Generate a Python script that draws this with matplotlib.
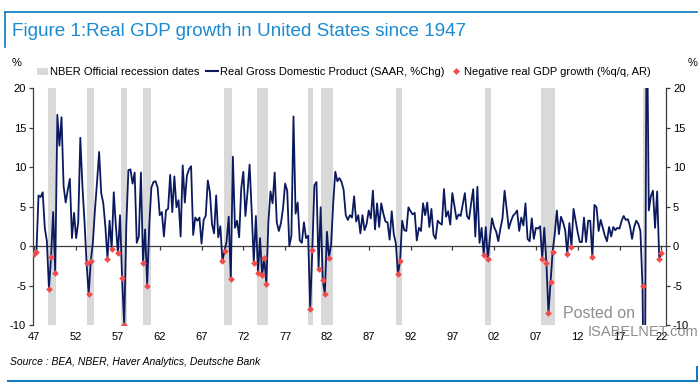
import matplotlib
matplotlib.use('Agg')
import matplotlib.pyplot as plt
import matplotlib.lines as mlines
import matplotlib.patches as mpatches
import numpy as np

plt.rcParams['font.family'] = ['Liberation Sans', 'DejaVu Sans']

# Real GDP growth, SAAR %q/q, quarterly from 1947Q2 to 2022Q2 (one row per year)
first_quarter = 1947.25
gdp_growth = [
    -1.0, -0.8, 6.4,              # 1947
    6.2, 6.8, 2.3, 0.6,           # 1948
    -5.4, -1.4, 4.3, -3.4,        # 1949
    16.6, 12.7, 16.3, 7.6,        # 1950
    5.5, 7.1, 8.5, 1.0,           # 1951
    4.2, 1.0, 3.0, 13.7,          # 1952
    7.6, 3.1, -2.2, -6.1,         # 1953
    -1.9, 0.4, 4.6, 8.1,          # 1954
    11.9, 6.7, 5.4, 2.4,          # 1955
    -1.6, 3.2, -0.4, 6.8,         # 1956
    2.6, -0.9, 3.9, -4.1,         # 1957
    -10.0, 2.6, 9.6, 9.7,         # 1958
    7.9, 9.3, 0.4, 1.2,           # 1959
    9.3, -2.1, 2.1, -5.0,         # 1960
    2.7, 7.4, 8.1, 8.2,           # 1961
    7.4, 3.9, 4.3, 1.2,           # 1962
    4.5, 4.7, 9.0, 4.3,           # 1963
    8.8, 4.9, 5.8, 1.2,           # 1964
    10.2, 5.5, 8.9, 9.7,          # 1965
    10.1, 1.4, 3.6, 3.2,          # 1966
    3.6, 0.3, 3.3, 3.8,           # 1967
    8.3, 6.8, 2.8, 1.6,           # 1968
    6.4, 1.1, 2.5, -1.9,          # 1969
    -0.6, 0.6, 3.7, -4.2,         # 1970
    11.3, 2.3, 3.2, 1.1,          # 1971
    7.3, 9.4, 3.8, 6.8,           # 1972
    10.3, 4.4, -2.1, 3.8,         # 1973
    -3.4, 1.0, -3.7, -1.5,        # 1974
    -4.8, 3.1, 6.9, 5.4,          # 1975
    9.3, 3.0, 1.9, 2.9,           # 1976
    4.8, 7.9, 7.0, 0.0,           # 1977
    1.3, 16.4, 4.1, 5.5,          # 1978
    0.7, 0.4, 3.0, 1.0,           # 1979
    1.3, -8.0, -0.5, 7.7,         # 1980
    8.1, -2.9, 4.9, -4.3,         # 1981
    -6.1, 1.8, -1.5, 0.2,         # 1982
    5.4, 9.4, 8.2, 8.6,           # 1983
    8.1, 7.1, 3.9, 3.3,           # 1984
    3.9, 3.6, 6.3, 3.1,           # 1985
    3.9, 1.6, 3.9, 2.0,           # 1986
    2.8, 4.5, 3.5, 7.0,           # 1987
    2.1, 5.4, 2.4, 5.4,           # 1988
    4.1, 3.1, 3.0, 0.8,           # 1989
    4.4, 1.5, 0.3, -3.6,          # 1990
    -1.9, 3.2, 2.0, 1.9,          # 1991
    4.9, 4.4, 4.0, 4.2,           # 1992
    0.7, 2.3, 1.9, 5.4,           # 1993
    3.9, 5.5, 2.4, 4.7,           # 1994
    1.4, 0.9, 3.2, 2.9,           # 1995
    2.7, 7.2, 3.7, 4.4,           # 1996
    2.7, 6.7, 5.1, 3.4,           # 1997
    4.0, 3.8, 5.3, 6.7,           # 1998
    3.8, 3.4, 5.4, 7.2,           # 1999
    1.2, 7.5, 0.4, 2.3,           # 2000
    -1.1, 2.4, -1.7, 1.1,         # 2001
    3.5, 2.4, 1.8, 0.6,           # 2002
    2.2, 3.5, 7.0, 4.7,           # 2003
    2.2, 3.1, 3.8, 4.1,           # 2004
    4.5, 1.9, 3.6, 2.6,           # 2005
    5.4, 0.9, 0.6, 3.5,           # 2006
    0.9, 2.3, 2.2, 2.5,           # 2007
    -1.6, 2.3, -2.1, -8.5,        # 2008
    -4.6, -0.7, 1.5, 4.5,         # 2009
    1.5, 3.7, 3.0, 2.0,           # 2010
    -1.0, 2.9, -0.1, 4.7,         # 2011
    3.2, 1.7, 0.5, 0.5,           # 2012
    3.6, 0.5, 3.2, 3.2,           # 2013
    -1.4, 5.2, 4.9, 1.9,          # 2014
    3.3, 2.3, 1.3, 0.6,           # 2015
    2.4, 1.2, 2.4, 2.0,           # 2016
    2.3, 2.2, 3.2, 3.8,           # 2017
    3.3, 3.4, 2.5, 0.9,           # 2018
    2.4, 3.2, 2.8, 1.9,           # 2019
    -5.1, -31.2, 33.8, 4.5,       # 2020
    6.3, 7.0, 2.3, 6.9,           # 2021
    -1.6, -0.9,                   # 2022
]

# NBER business cycle peaks / troughs (month)
rec_peak = ['1948-11', '1953-07', '1957-08', '1960-04', '1969-12', '1973-11',
            '1980-01', '1981-07', '1990-07', '2001-03', '2007-12', '2020-02']
rec_trough = ['1949-10', '1954-05', '1958-04', '1961-02', '1970-11', '1975-03',
              '1980-07', '1982-11', '1991-03', '2001-11', '2009-06', '2020-04']

tick_years = list(range(1947, 2023, 5))
y_ticks = [-10, -5, 0, 5, 10, 15, 20]

NAVY = '#0b1a5e'
RED = '#f24b4b'
SHADE = '#d9d9d9'
BLUE = '#1b8ad0'
RULE = '#0a78c2'


def month_to_year(s):
    yr, mo = s.split('-')
    return int(yr) + (int(mo) - 1) / 12.


gdp = np.array(gdp_growth)
t = first_quarter + 0.25 * np.arange(len(gdp))

fig = plt.figure(figsize=(7, 3.9), dpi=100)
ax = fig.add_axes([33 / 700., 1 - 325 / 390., (666 - 33) / 700., (325 - 88) / 390.])

for p, tr in zip(rec_peak, rec_trough):
    ax.axvspan(month_to_year(p), month_to_year(tr) + 1 / 12., color=SHADE, lw=0, zorder=0)

ax.axhline(0, color='#3c3c3c', lw=0.9, zorder=1)
ax.plot(t, gdp, color=NAVY, lw=1.3, zorder=2)
neg = gdp < 0
ax.plot(t[neg], gdp[neg], 'D', ms=3.4, color=RED, mec='none', zorder=3)

ax.set_ylim(-10, 20)
ax.set_xlim(1947.09, 2022.81)

for s in ['top', 'bottom']:
    ax.spines[s].set_visible(False)
for s in ['left', 'right']:
    ax.spines[s].set_color('#3c3c3c')
    ax.spines[s].set_linewidth(0.9)

ax.set_yticks(y_ticks)
ax.set_yticklabels([str(v) for v in y_ticks])
ax.tick_params(axis='y', left=True, right=True, labelleft=True, labelright=True,
               direction='out', length=3, width=0.9, color='#3c3c3c', labelsize=8, pad=2)

tick_pos = [y + 0.25 for y in tick_years]
ax.set_xticks(tick_pos)
ax.set_xticklabels(['%02d' % (y % 100) for y in tick_years])
ax.tick_params(axis='x', length=0, labelsize=8, pad=5)

# small ticks sitting on the zero line
zero_ax = ax.secondary_xaxis(10 / 30.)
zero_ax.set_xticks(tick_pos)
zero_ax.tick_params(axis='x', direction='out', length=3, width=0.9, color='#3c3c3c', labelbottom=False)
zero_ax.spines['bottom'].set_visible(False)

# header / footer
fig.add_artist(mlines.Line2D([5 / 700., 697 / 700.], [1 - 12 / 390.] * 2, color=RULE, lw=1.2))
fig.add_artist(mlines.Line2D([5 / 700.] * 2, [1 - 12 / 390., 1 - 47 / 390.], color=RULE, lw=1.2))
fig.text(12 / 700., 1 - 31 / 390., 'Figure 1:Real GDP growth in United States since 1947',
         color=BLUE, fontsize=13.6, va='center', ha='left')

fig.text(12 / 700., 1 - 63 / 390., '%', fontsize=8, va='center', ha='left')
fig.text(688 / 700., 1 - 63 / 390., '%', fontsize=8, va='center', ha='left')

handles = [mpatches.Patch(color=SHADE, lw=0),
           mlines.Line2D([], [], color=NAVY, lw=1.5),
           mlines.Line2D([], [], ls='none', marker='D', ms=3.5, color=RED, mec='none')]
labels = ['NBER Official recession dates', 'Real Gross Domestic Product (SAAR, %Chg)',
          'Negative real GDP growth (%q/q, AR)']
fig.legend(handles, labels, ncol=3, loc='center', bbox_to_anchor=(344 / 700., 1 - 72 / 390.),
           frameon=False, fontsize=8, handlelength=1.0, handleheight=0.6, handletextpad=0.2,
           columnspacing=0.6, borderaxespad=0)

fig.text(10 / 700., 1 - 362 / 390., 'Source : BEA, NBER, Haver Analytics, Deutsche Bank',
         fontsize=7.5, style='italic', va='center', ha='left',
         family=['Liberation Sans Narrow', 'Liberation Sans', 'DejaVu Sans'])
fig.add_artist(mlines.Line2D([8 / 700., 697 / 700.], [1 - 381 / 390.] * 2, color=RULE, lw=1.4))
fig.add_artist(mlines.Line2D([697 / 700.] * 2, [1 - 381 / 390., 1 - 367 / 390.], color=RULE, lw=1.4))

# watermark
fig.text(563 / 700., 1 - 313 / 390., 'Posted on', fontsize=11.5, color='#7a7a7a', alpha=0.85,
         va='center', ha='left')
fig.text(588 / 700., 1 - 332 / 390., 'ISABELNET.com', fontsize=10.5, color='#7a7a7a', alpha=0.85,
         va='center', ha='left')

fig.savefig('out.png', dpi=100)
